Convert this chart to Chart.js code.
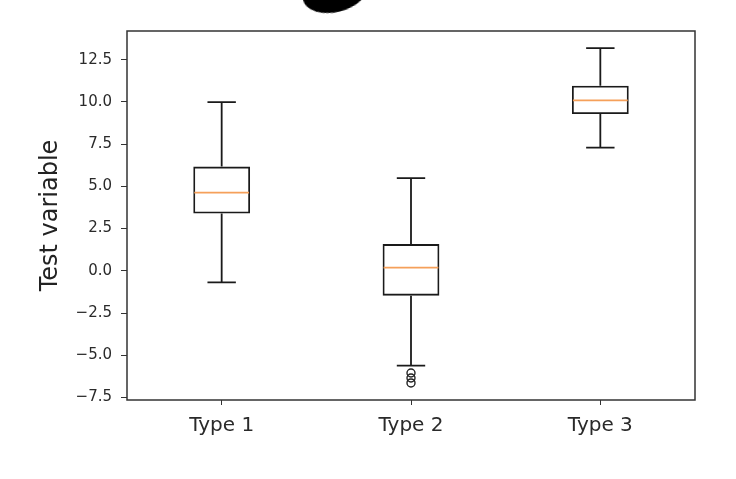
<!DOCTYPE html>
<html>
<head>
<meta charset="utf-8">
<script src="https://cdn.jsdelivr.net/npm/chart.js@4/dist/chart.umd.min.js"></script>
<style>
  html, body { margin: 0; padding: 0; background: #fff; overflow: hidden; }
  #wrap { position: relative; width: 736px; height: 479px; }
  #stroke {
    position: absolute; left: 302px; top: -28px; width: 66px; height: 40px;
    background: #000; border-radius: 50%; transform: rotate(-14deg);
  }
</style>
</head>
<body>
<div id="wrap">
  <canvas id="boxChart" width="736" height="479"></canvas>
  <div id="stroke"></div>
</div>
<script>
// valeurs
const categories = ['Type 1', 'Type 2', 'Type 3'];
const whiskerLow = [-0.68, -5.62, 7.30];
const q1 = [3.39, -1.47, 9.28];
const medians = [4.63, 0.19, 10.09];
const q3 = [6.17, 1.58, 10.96];
const whiskerHigh = [9.99, 5.49, 13.19];
const outlierCats = ['Type 2', 'Type 2', 'Type 2'];
const outlierValues = [-6.05, -6.35, -6.64];
const yMin = -7.65;
const yMax = 14.2;
const yStep = 2.5;

const fontFamily = "'DejaVu Sans', sans-serif";

// moustaches, capuchons et médianes
const boxWhiskers = {
    id: 'boxWhiskers',
    afterDatasetsDraw(chart) {
        const ctx = chart.ctx;
        const y = chart.scales.y;
        const meta = chart.getDatasetMeta(0);
        ctx.save();
        meta.data.forEach((bar, i) => {
            const x = bar.x;
            const half = bar.width / 2;
            ctx.strokeStyle = '#1a1a1a';
            ctx.lineWidth = 1.8;
            ctx.beginPath();
            ctx.moveTo(x, y.getPixelForValue(q3[i]));
            ctx.lineTo(x, y.getPixelForValue(whiskerHigh[i]));
            ctx.moveTo(x, y.getPixelForValue(q1[i]));
            ctx.lineTo(x, y.getPixelForValue(whiskerLow[i]));
            ctx.moveTo(x - half / 2, y.getPixelForValue(whiskerHigh[i]));
            ctx.lineTo(x + half / 2, y.getPixelForValue(whiskerHigh[i]));
            ctx.moveTo(x - half / 2, y.getPixelForValue(whiskerLow[i]));
            ctx.lineTo(x + half / 2, y.getPixelForValue(whiskerLow[i]));
            ctx.stroke();
            ctx.strokeStyle = '#f5a05a';
            ctx.lineWidth = 1.6;
            ctx.beginPath();
            ctx.moveTo(x - half + 1, y.getPixelForValue(medians[i]));
            ctx.lineTo(x + half - 1, y.getPixelForValue(medians[i]));
            ctx.stroke();
        });
        ctx.restore();
    }
};

// cadre autour de la zone du graphique
const frame = {
    id: 'frame',
    afterDraw(chart) {
        const a = chart.chartArea;
        const ctx = chart.ctx;
        ctx.save();
        ctx.strokeStyle = '#333';
        ctx.lineWidth = 1.5;
        ctx.strokeRect(a.left, a.top, a.right - a.left, a.bottom - a.top);
        ctx.restore();
    }
};

const ctx = document.getElementById('boxChart').getContext('2d');
const chart = new Chart(ctx, {
    type: 'bar',
    data: {
        labels: categories,
        datasets: [{
            type: 'bar',
            data: q1.map((v, i) => [v, q3[i]]),
            backgroundColor: 'rgba(255,255,255,0)',
            borderColor: '#1a1a1a',
            borderWidth: 1.8,
            borderSkipped: false,
            categoryPercentage: 1,
            barPercentage: 0.3
        }, {
            type: 'line',
            data: outlierValues.map((v, i) => ({ x: outlierCats[i], y: v })),
            showLine: false,
            pointStyle: 'circle',
            pointRadius: 4,
            pointBorderWidth: 1.4,
            pointBorderColor: '#222',
            pointBackgroundColor: 'rgba(255,255,255,0)'
        }]
    },
    options: {
        responsive: false,
        animation: false,
        layout: { padding: { left: 0, right: 41, top: 31, bottom: 0 } },
        plugins: { legend: { display: false }, tooltip: { enabled: false } },
        scales: {
            x: {
                offset: true,
                grid: { display: true, offset: false, drawOnChartArea: false, drawTicks: true, tickLength: 5, color: '#333' },
                border: { display: false },
                ticks: { color: '#2a2a2a', padding: 9, font: { family: fontFamily, size: 20 } },
                afterFit: (s) => { s.height = 79; }
            },
            y: {
                min: yMin,
                max: yMax,
                grid: { display: true, drawOnChartArea: false, drawTicks: true, tickLength: 6, color: '#333' },
                border: { display: false },
                ticks: {
                    stepSize: yStep,
                    includeBounds: false,
                    color: '#2a2a2a',
                    padding: 9,
                    font: { family: fontFamily, size: 15 },
                    callback: (v) => v.toFixed(1).replace('-', '\u2212')
                },
                title: {
                    display: true,
                    text: 'Test variable',
                    color: '#222',
                    padding: { top: 36, bottom: 0 },
                    font: { family: fontFamily, size: 24 }
                },
                afterFit: (s) => { s.width = 127; }
            }
        }
    },
    plugins: [boxWhiskers, frame]
});
</script>
</body>
</html>
